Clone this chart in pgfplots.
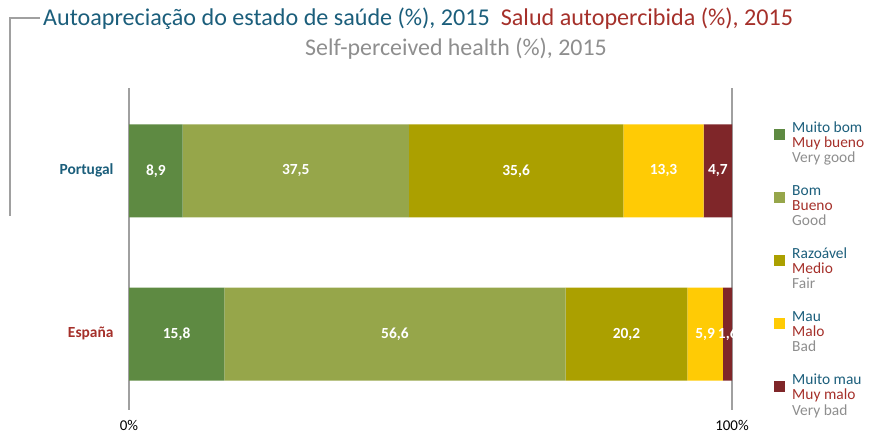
\documentclass[border=0pt]{standalone}
\usepackage{fontspec}
\setmainfont{Carlito}
\usepackage{pgfplots}
\pgfplotsset{compat=1.18}
\definecolor{tblue}{HTML}{1B5E7B}
\definecolor{tred}{HTML}{A5302A}
\definecolor{tgray}{HTML}{8E8E8E}
\definecolor{axgray}{HTML}{A0A0A0}
\definecolor{cA}{HTML}{5E8A42}
\definecolor{cB}{HTML}{96A64A}
\definecolor{cC}{HTML}{ABA000}
\definecolor{cD}{HTML}{FFCB05}
\definecolor{cE}{HTML}{7F2629}
\newcommand{\lgd}[3]{{\fontsize{15.5}{15}\selectfont\begin{tabular}{@{}l@{}}\color{tblue}#1\\\color{tred}#2\\\color{tgray}#3\end{tabular}}}
\begin{document}
\begin{tikzpicture}[x=1bp,y=1bp]
\useasboundingbox (0,0) rectangle (869,434);
\begin{axis}[
  at={(129bp,24bp)}, anchor=south west,
  scale only axis, width=603bp, height=322bp,
  xbar stacked, bar width=93bp,
  xmin=0, xmax=100, ymin=-0.466, ymax=1.509,
  axis line style={draw=none},
  xtick={0,100}, xticklabels={0\%,100\%},
  xmajorgrids, grid style={color=axgray, line width=2bp},
  major tick length=0,
  ytick={0,1}, yticklabels={{\color{tred}España},{\color{tblue}Portugal}},
  yticklabel style={font=\fontsize{15.5}{18}\selectfont\bfseries, xshift=-12bp, yshift=1bp},
  xticklabel style={font=\fontsize{15}{18}\selectfont, yshift=-7bp},
  legend image code/.code={\fill[#1, draw=none] (0bp,4.5bp) rectangle (11bp,15.5bp);},
  legend cell align=left,
  legend style={at={(1.0697,0.896)}, anchor=north west, draw=none, fill=none,
    inner sep=0pt, row sep=17.7bp, column sep=7bp,
    nodes={inner sep=0pt, text depth=, text height=}},
]
\addplot[fill=cA, draw=none] coordinates {(8.9,1) (15.8,0)};
\addlegendentry{\lgd{Muito bom}{Muy bueno}{Very good}}
\addplot[fill=cB, draw=none] coordinates {(37.5,1) (56.6,0)};
\addlegendentry{\lgd{Bom}{Bueno}{Good}}
\addplot[fill=cC, draw=none] coordinates {(35.6,1) (20.2,0)};
\addlegendentry{\lgd{Razoável}{Medio}{Fair}}
\addplot[fill=cD, draw=none] coordinates {(13.3,1) (5.9,0)};
\addlegendentry{\lgd{Mau}{Malo}{Bad}}
\addplot[fill=cE, draw=none] coordinates {(4.7,1) (1.6,0)};
\addlegendentry{\lgd{Muito mau}{Muy malo}{Very bad}}
\end{axis}
\begin{axis}[
  at={(129bp,24bp)}, anchor=south west,
  scale only axis, width=603bp, height=322bp,
  xmin=0, xmax=100, ymin=-0.466, ymax=1.509,
  hide axis, clip=false,
]
\addplot[draw=none, mark=none, nodes near coords, point meta=explicit symbolic,
  nodes near coords style={font=\fontsize{15.5}{18}\selectfont\bfseries, text=white, anchor=center, inner sep=0pt}]
  table[x=x, y=y, meta=l, row sep=\\] {
  x y l \\
  4.45 1 8,9 \\
  27.65 1 37,5 \\
  64.2 1 35,6 \\
  88.65 1 13,3 \\
  97.65 1 4,7 \\
  7.9 0 15,8 \\
  44.1 0 56,6 \\
  82.5 0 20,2 \\
  95.55 0 5,9 \\
  99.3 0 1,6 \\
};
\end{axis}
\draw[axgray, line width=2.5bp] (40,416) -- (10,416) -- (10,218);
\node[anchor=base west, font=\fontsize{24.2}{28}\selectfont, inner sep=0pt] at (43,408) {\color{tblue}Autoapreciação do estado de saúde (\%), 2015\hspace{11bp}\color{tred}Salud autopercibida (\%), 2015};
\node[anchor=base, font=\fontsize{24}{28}\selectfont, inner sep=0pt, text=tgray] at (456,378) {Self-perceived health (\%), 2015};
\end{tikzpicture}
\end{document}
